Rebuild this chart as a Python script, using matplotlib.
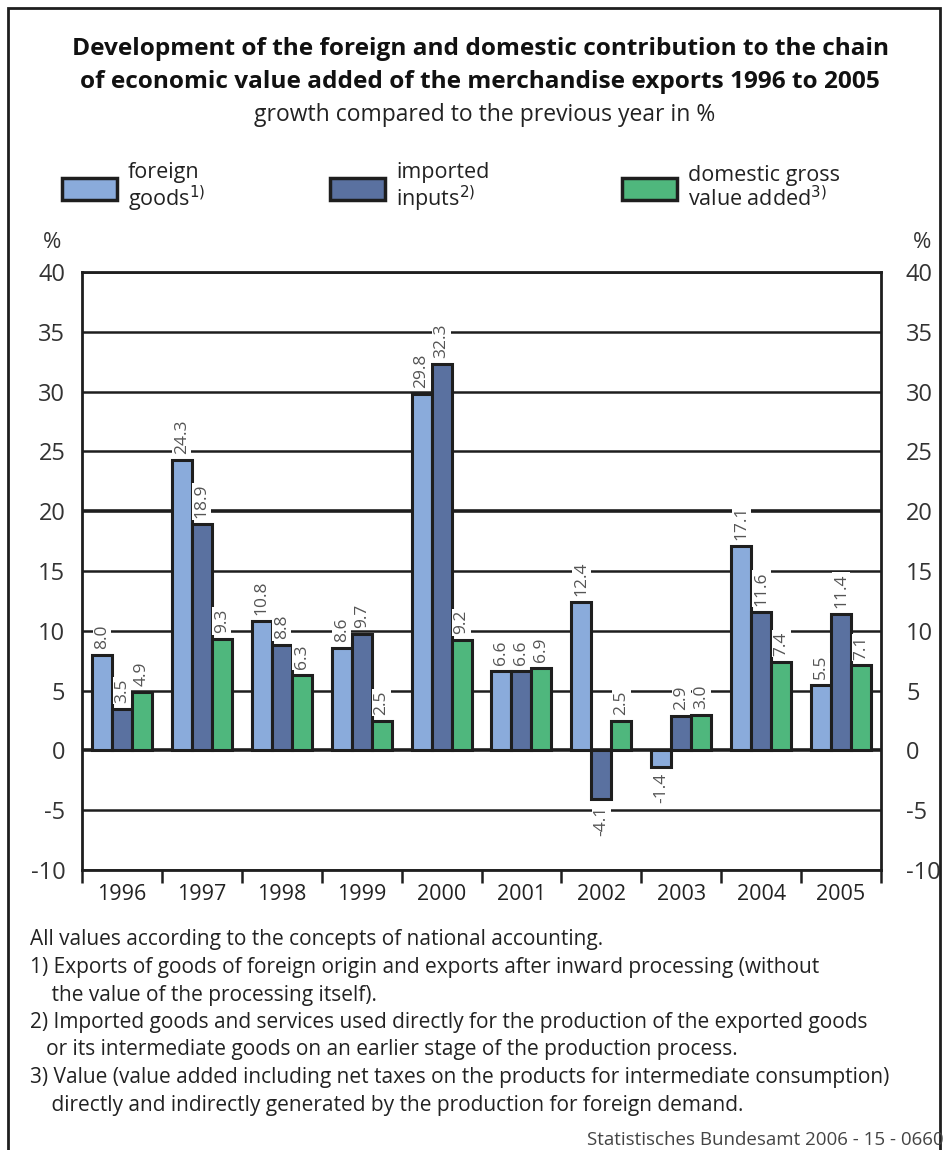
import numpy as np
import matplotlib
matplotlib.use("Agg")
import matplotlib.pyplot as plt
from matplotlib.patches import Rectangle

# data
years = ['1996', '1997', '1998', '1999', '2000', '2001', '2002', '2003', '2004', '2005']
foreign_goods = [8.0, 24.3, 10.8, 8.6, 29.8, 6.6, 12.4, -1.4, 17.1, 5.5]
imported_inputs = [3.5, 18.9, 8.8, 9.7, 32.3, 6.6, -4.1, 2.9, 11.6, 11.4]
domestic_gva = [4.9, 9.3, 6.3, 2.5, 9.2, 6.9, 2.5, 3.0, 7.4, 7.1]
y_ticks = [40, 35, 30, 25, 20, 15, 10, 5, 0, -5, -10]

series = [foreign_goods, imported_inputs, domestic_gva]
colors = ['#8aabdb', '#5a71a0', '#4fb77d']
edge = '#1e1e1e'

plt.rcParams['font.family'] = ['Open Sans', 'DejaVu Sans']

W, H = 944, 1150
fig = plt.figure(figsize=(W / 100, H / 100), dpi=100)

def fx(px):
    return px / W

def fy(py):
    return 1 - py / H

ax = fig.add_axes([fx(82), fy(870), fx(881) - fx(82), fy(272) - fy(870)])
ax.set_xlim(0, len(years))
ax.set_ylim(-10, 40)

# gridlines
for t in y_ticks:
    lw = 2.6 if t in (0, 20) else 1.8
    ax.axhline(t, color=edge, lw=lw, zorder=1)

x = np.arange(len(years)) + 0.5
w = 0.25
for i, (vals, c) in enumerate(zip(series, colors)):
    xs = x + (i - 1) * w
    ax.bar(xs, vals, width=w, color=c, edgecolor=edge, linewidth=2.2, zorder=3)
    for xi, v in zip(xs, vals):
        off = 0.5 if v >= 0 else -0.5
        ax.text(xi, v + off, f'{v:.1f}', rotation=90, ha='center',
                va='bottom' if v >= 0 else 'top', fontsize=12.5, color='#555555',
                zorder=4, bbox=dict(facecolor='white', edgecolor='none', pad=1.0))

for s in ax.spines.values():
    s.set_color(edge)
    s.set_linewidth(2)

ax.set_yticks(y_ticks)
ax.set_yticklabels([str(t) for t in y_ticks], fontsize=17, color='#333333')
ax.tick_params(axis='y', length=0, pad=12)

ax2 = ax.twinx()
ax2.set_ylim(-10, 40)
ax2.set_yticks(y_ticks)
ax2.set_yticklabels([str(t) for t in y_ticks], fontsize=17, color='#333333')
ax2.tick_params(axis='y', length=0, pad=18)
for s in ax2.spines.values():
    s.set_visible(False)

ax.set_xticks(x)
ax.set_xticklabels(years, fontsize=15.5, color='#222222')
ax.set_xticks(np.arange(len(years) + 1), minor=True)
ax.tick_params(axis='x', which='major', length=0, pad=10)
ax.tick_params(axis='x', which='minor', length=9, width=1.8, color=edge, direction='out')

fig.text(fx(52), fy(243), '%', fontsize=16, ha='center', va='center', color='#333333')
fig.text(fx(922), fy(243), '%', fontsize=16, ha='center', va='center', color='#333333')

# title
fig.text(fx(480), fy(49), 'Development of the foreign and domestic contribution to the chain',
         fontsize=17.6, fontweight='bold', ha='center', va='center', color='#111111')
fig.text(fx(480), fy(82), 'of economic value added of the merchandise exports 1996 to 2005',
         fontsize=17.6, fontweight='bold', ha='center', va='center', color='#111111')
fig.text(fx(485), fy(115), 'growth compared to the previous year in %',
         fontsize=16.5, ha='center', va='center', color='#222222')

# legend
leg_labels = ['foreign\ngoods$^{1)}$', 'imported\ninputs$^{2)}$', 'domestic gross\nvalue added$^{3)}$']
leg_x = [62, 330, 622]
for lx, lab, c in zip(leg_x, leg_labels, colors):
    fig.add_artist(Rectangle((fx(lx), fy(200)), fx(55), fy(178) - fy(200),
                             transform=fig.transFigure, facecolor=c, edgecolor=edge, lw=2.5))
    fig.text(fx(lx + 66), fy(188), lab, fontsize=15.5, ha='left', va='center',
             color='#222222', linespacing=1.0)

# footnotes
notes = ['All values according to the concepts of national accounting.',
         '1) Exports of goods of foreign origin and exports after inward processing (without',
         '    the value of the processing itself).',
         '2) Imported goods and services used directly for the production of the exported goods',
         '   or its intermediate goods on an earlier stage of the production process.',
         '3) Value (value added including net taxes on the products for intermediate consumption)',
         '    directly and indirectly generated by the production for foreign demand.']
for k, line in enumerate(notes):
    fig.text(fx(30), fy(940 + k * 27.5), line, fontsize=15, ha='left', va='center',
             color='#222222')
fig.text(fx(944), fy(1140), 'Statistisches Bundesamt 2006 - 15 - 0660', fontsize=13.5,
         ha='right', va='center', color='#444444')

# outer frame
fig.add_artist(Rectangle((fx(8), fy(1160)), fx(932), fy(8) - fy(1160),
                         transform=fig.transFigure, facecolor='none', edgecolor=edge, lw=2))

fig.savefig('out.png', dpi=100)
